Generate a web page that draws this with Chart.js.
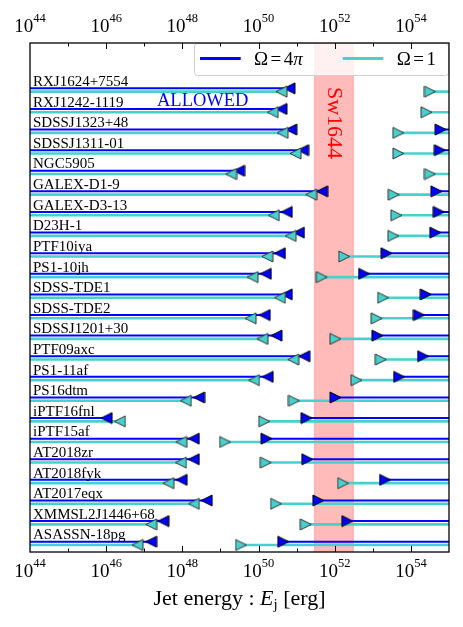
<!DOCTYPE html>
<html>
<head>
<meta charset="utf-8">
<script src="https://cdn.jsdelivr.net/npm/chart.js@4.4.1/dist/chart.umd.min.js"></script>
<style>
  html, body { margin: 0; padding: 0; background: #fff; }
  #wrap { width: 463px; height: 627px; }
</style>
</head>
<body>
<div id="wrap"><canvas id="c" width="463" height="627"></canvas></div>
<script>
// TDE names, top to bottom
const names = [
  'RXJ1624+7554', 'RXJ1242-1119', 'SDSSJ1323+48', 'SDSSJ1311-01', 'NGC5905',
  'GALEX-D1-9', 'GALEX-D3-13', 'D23H-1', 'PTF10iya', 'PS1-10jh', 'SDSS-TDE1',
  'SDSS-TDE2', 'SDSSJ1201+30', 'PTF09axc', 'PS1-11af', 'PS16dtm', 'iPTF16fnl',
  'iPTF15af', 'AT2018zr', 'AT2018fyk', 'AT2017eqx', 'XMMSL2J1446+68', 'ASASSN-18pg',
];
// log10(E_j / erg). upper = left-pointing limits, lower = right-pointing limits
// null -> beyond the right edge of the plot
const blueUpper = [50.81, 50.60, 50.86, 51.17, 49.49, 51.67, 50.74, 51.06, 50.56, 50.19, 50.74, 50.16,
  50.47, 51.20, 50.24, 48.44, 46.01, 48.30, 48.30, 47.98, 48.64, 47.50, 47.18];
const cyanUpper = [50.60, 50.37, 50.63, 50.97, 49.28, 51.38, 50.40, 50.84, 50.23, 49.84, 50.56, 49.79,
  50.10, 50.91, 49.88, 48.09, 46.36, 47.97, 47.96, 47.63, 48.30, 47.18, 46.82];
const cyanLower = [54.50, 54.41, 53.67, 53.67, 54.50, 53.55, 53.62, 53.54, 52.25, 51.66, 53.27, 53.10,
  52.02, 53.21, 52.57, 50.93, 50.15, 49.12, 50.19, 52.22, 50.46, 51.24, 49.54];
const blueLower = [null, null, 54.78, 54.76, null, 54.67, 54.73, 54.64, 53.36, 52.77, 54.39, 54.21,
  53.12, 54.32, 53.69, 52.02, 51.26, 50.21, 51.28, 53.32, 51.57, 52.33, 50.65];

const xRangeExp = [44, 55];
const tickExponents = [44, 46, 48, 50, 52, 54];
const sw1644Range = [51.47, 52.49];

const BLUE = '#0000ff';
const CYAN = '#48d1cc';
const CYAN_DY = 0.16; // cyan row sits a little below the blue one
const XMIN = 10 ** xRangeExp[0];
const XMAX = 10 ** xRangeExp[1];

function lineData(vals, dy, toRight) {
  const pts = [];
  vals.forEach((v, i) => {
    if (v === null) return;
    const y = i + dy;
    const p = { x: 10 ** v, y };
    const edge = { x: toRight ? XMAX : XMIN, y };
    pts.push(toRight ? p : edge, toRight ? edge : p, { x: 10 ** v, y: null });
  });
  return pts;
}

function markerData(vals, dy) {
  const pts = [];
  vals.forEach((v, i) => { if (v !== null) pts.push({ x: 10 ** v, y: i + dy }); });
  return pts;
}

// matplotlib-like '<' / '>' markers
function triangle(fill, edge, dir) {
  const c = document.createElement('canvas');
  c.width = 13; c.height = 13;
  const g = c.getContext('2d');
  g.beginPath();
  if (dir < 0) { g.moveTo(1, 6.5); g.lineTo(12, 1); g.lineTo(12, 12); }
  else { g.moveTo(12, 6.5); g.lineTo(1, 1); g.lineTo(1, 12); }
  g.closePath();
  g.fillStyle = fill; g.fill();
  g.lineWidth = 1; g.strokeStyle = edge; g.stroke();
  return c;
}

function lineSet(vals, dy, toRight, color, width, order) {
  return {
    data: lineData(vals, dy, toRight),
    borderColor: color, borderWidth: width,
    pointRadius: 0, tension: 0, spanGaps: false, fill: false, order,
  };
}

function markerSet(vals, dy, style, order) {
  return {
    data: markerData(vals, dy),
    showLine: false, pointStyle: style, pointRadius: 6,
    borderColor: 'transparent', backgroundColor: 'transparent', order,
  };
}

const SERIF = '"Liberation Serif", "Times New Roman", serif';

const decorPlugin = {
  id: 'decor',
  beforeDatasetsDraw(chart) {
    const { ctx, chartArea: a, scales: { x } } = chart;
    const x0 = x.getPixelForValue(10 ** sw1644Range[0]);
    const x1 = x.getPixelForValue(10 ** sw1644Range[1]);
    ctx.save();
    ctx.fillStyle = 'rgba(255,0,0,0.27)';
    ctx.fillRect(x0, a.top, x1 - x0, a.bottom - a.top);
    ctx.strokeStyle = 'rgba(255,0,0,0.2)';
    ctx.lineWidth = 1.2;
    ctx.beginPath();
    ctx.moveTo(x0, a.top); ctx.lineTo(x0, a.bottom);
    ctx.moveTo(x1, a.top); ctx.lineTo(x1, a.bottom);
    ctx.stroke();
    ctx.restore();
  },
  afterDraw(chart) {
    const { ctx, chartArea: a, scales: { x, y } } = chart;
    ctx.save();

    // object names
    ctx.fillStyle = '#000';
    ctx.font = '15px ' + SERIF;
    ctx.textAlign = 'left';
    ctx.textBaseline = 'alphabetic';
    names.forEach((n, i) => ctx.fillText(n, a.left + 3, y.getPixelForValue(i) - 2.3));

    ctx.fillStyle = BLUE;
    ctx.font = '18.5px ' + SERIF;
    ctx.fillText('ALLOWED', 157, 106);

    // Sw1644 label
    const bx = (x.getPixelForValue(10 ** sw1644Range[0]) + x.getPixelForValue(10 ** sw1644Range[1])) / 2;
    ctx.save();
    ctx.translate(bx, 123);
    ctx.rotate(Math.PI / 2);
    ctx.fillStyle = '#ff0000';
    ctx.font = '22px ' + SERIF;
    ctx.textAlign = 'center';
    ctx.textBaseline = 'middle';
    ctx.fillText('Sw1644', 0, 0);
    ctx.restore();

    // legend
    ctx.beginPath();
    ctx.roundRect(194.5, 43.5, 254, 32, 3);
    ctx.fillStyle = 'rgba(255,255,255,0.8)';
    ctx.fill();
    ctx.strokeStyle = '#d0d0d0';
    ctx.lineWidth = 1;
    ctx.stroke();
    const legend = [
      { color: BLUE, x: 200, parts: [['Ω', ''], ['=', ''], ['4', ''], ['π', 'italic ']] },
      { color: CYAN, x: 342.7, parts: [['Ω', ''], ['=', ''], ['1', '']] },
    ];
    legend.forEach(item => {
      ctx.strokeStyle = item.color;
      ctx.lineWidth = 3;
      ctx.beginPath();
      ctx.moveTo(item.x, 58.5); ctx.lineTo(item.x + 40.7, 58.5);
      ctx.stroke();
      let tx = item.x + 54;
      ctx.fillStyle = '#000';
      item.parts.forEach(([t, style], k) => {
        ctx.font = style + '19px ' + SERIF;
        if (t === '=') tx += 2.5;
        ctx.fillText(t, tx, 65.3);
        tx += ctx.measureText(t).width;
        if (t === '=') tx += 2.5;
      });
    });

    // frame
    ctx.strokeStyle = '#000';
    ctx.lineWidth = 1.3;
    ctx.strokeRect(a.left, a.top, a.right - a.left, a.bottom - a.top);

    // inward ticks, top and bottom
    ctx.lineWidth = 1;
    for (let e = xRangeExp[0] + 1; e < xRangeExp[1]; e++) {
      const px = Math.round(x.getPixelForValue(10 ** e)) + 0.5;
      const len = e % 2 === 0 ? 6 : 3.5;
      ctx.beginPath();
      ctx.moveTo(px, a.top); ctx.lineTo(px, a.top + len);
      ctx.moveTo(px, a.bottom); ctx.lineTo(px, a.bottom - len);
      ctx.stroke();
    }

    // tick labels 10^n
    ctx.fillStyle = '#000';
    tickExponents.forEach(e => {
      const px = x.getPixelForValue(10 ** e);
      ctx.font = '19px ' + SERIF;
      const wBase = ctx.measureText('10').width;
      ctx.font = '12.5px ' + SERIF;
      const wExp = ctx.measureText(String(e)).width;
      const left = px - (wBase + wExp) / 2;
      [31.7, 576.7].forEach(base => {
        ctx.font = '19px ' + SERIF;
        ctx.fillText('10', left, base);
        ctx.font = '12.5px ' + SERIF;
        ctx.fillText(String(e), left + wBase, base - 10);
      });
    });

    // axis title: Jet energy : E_j [erg]
    const parts = [
      ['Jet energy : ', '22px ', 0],
      ['E', 'italic 22px ', 0],
      ['j', '15px ', 4],
      [' [erg]', '22px ', 0],
    ];
    let total = 0;
    parts.forEach(([t, f]) => { ctx.font = f + SERIF; total += ctx.measureText(t).width; });
    let tx = (a.left + a.right) / 2 - total / 2;
    parts.forEach(([t, f, dy]) => {
      ctx.font = f + SERIF;
      ctx.fillText(t, tx, 605 + dy);
      tx += ctx.measureText(t).width;
    });

    ctx.restore();
  },
};

new Chart(document.getElementById('c'), {
  type: 'line',
  data: {
    datasets: [
      lineSet(blueUpper, 0, false, BLUE, 2, 4),
      lineSet(blueLower, 0, true, BLUE, 2, 4),
      lineSet(cyanUpper, CYAN_DY, false, CYAN, 2.6, 3),
      lineSet(cyanLower, CYAN_DY, true, CYAN, 2.6, 3),
      markerSet(blueUpper, 0, triangle(BLUE, '#000', -1), 2),
      markerSet(blueLower, 0, triangle(BLUE, '#000', 1), 2),
      markerSet(cyanUpper, CYAN_DY, triangle(CYAN, '#333', -1), 1),
      markerSet(cyanLower, CYAN_DY, triangle(CYAN, '#333', 1), 1),
    ],
  },
  options: {
    responsive: false,
    animation: false,
    devicePixelRatio: 1,
    layout: { padding: { left: 30, right: 14, top: 43, bottom: 75 } },
    scales: {
      x: { type: 'logarithmic', min: XMIN, max: XMAX, display: false },
      y: { type: 'linear', min: -2.2, max: 22.5, reverse: true, display: false },
    },
    plugins: {
      legend: { display: false },
      tooltip: { enabled: false },
    },
    events: [],
  },
  plugins: [decorPlugin],
});
</script>
</body>
</html>
